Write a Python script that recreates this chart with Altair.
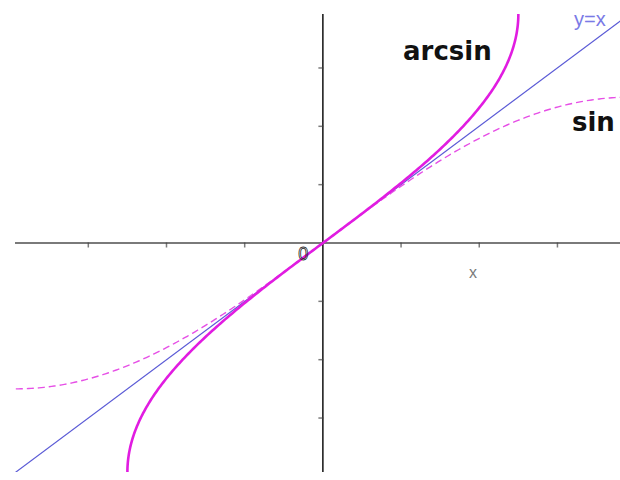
import numpy as np
import pandas as pd
import altair as alt

# Axis extents and tick positions (plot units)
x_range = [-1.575, 1.52]
y_range = [-1.57, 1.57]
tick_vals = [-1.2, -0.8, -0.4, 0.4, 0.8, 1.2]

# Parameter grids for the curves
t_arcsin = np.linspace(-np.pi / 2, np.pi / 2, 241)   # angle grid for arcsin
x_sin = np.linspace(-np.pi / 2, np.pi / 2, 241)      # x grid for sin
x_diag = [-1.575, 1.56]                              # endpoints of y = x

arcsin_df = pd.DataFrame({"x": np.sin(t_arcsin), "y": t_arcsin})
sin_df = pd.DataFrame({"x": x_sin, "y": np.sin(x_sin)})
diag_df = pd.DataFrame({"x": x_diag, "y": x_diag})

# Curve names
label_x = [0.637, 1.384]
label_y = [1.254, 0.768]
label_text = ["arcsin", "sin"]
labels = pd.DataFrame({"x": label_x, "y": label_y, "text": label_text})

xs = alt.Scale(domain=x_range, nice=False, zero=False)
ys = alt.Scale(domain=y_range, nice=False, zero=False)
X = lambda: alt.X("x:Q", scale=xs, axis=None)
Y = lambda: alt.Y("y:Q", scale=ys, axis=None)

x_axis = alt.Chart(pd.DataFrame({"x": [x_range[0]], "x2": [x_range[1]], "y": [0]})).mark_rule(
    color="#7a7a7a", strokeWidth=2
).encode(x=X(), x2="x2:Q", y=Y())

y_axis = alt.Chart(pd.DataFrame({"x": [0], "y": [y_range[0]], "y2": [y_range[1]]})).mark_rule(
    color="#111111", strokeWidth=1.5
).encode(x=X(), y=Y(), y2="y2:Q")

x_ticks = alt.Chart(pd.DataFrame({"x": tick_vals, "y": [0] * len(tick_vals)})).mark_tick(
    orient="vertical", size=5, thickness=1.5, color="#444444", yOffset=2
).encode(x=X(), y=Y())

y_ticks = alt.Chart(pd.DataFrame({"x": [0] * len(tick_vals), "y": tick_vals})).mark_tick(
    orient="horizontal", size=5, thickness=1.5, color="#444444", xOffset=-2
).encode(x=X(), y=Y())

diag = alt.Chart(diag_df).mark_line(color="#5b5bd6", strokeWidth=1.2, clip=True).encode(
    x=X(), y=Y()
)

sin_line = alt.Chart(sin_df).mark_line(
    color="#e64fe6", strokeWidth=1.4, strokeDash=[7, 4], clip=True
).encode(x=X(), y=Y(), order="x:Q")

arcsin_line = alt.Chart(arcsin_df).mark_line(
    color="#e11ce1", strokeWidth=2.6, clip=True
).encode(x=X(), y=Y(), order="y:Q")

name_text = alt.Chart(labels).mark_text(
    font="DejaVu Sans", fontSize=26, fontWeight="bold", color="#111111",
    baseline="alphabetic", align="center"
).encode(x=X(), y=Y(), text="text:N")

yx_text = alt.Chart(pd.DataFrame({"x": [1.366], "y": [1.487], "text": ["y=x"]})).mark_text(
    font="Liberation Sans", fontSize=20, color="#7a7ae6", baseline="alphabetic", align="center"
).encode(x=X(), y=Y(), text="text:N")

zero_text = alt.Chart(pd.DataFrame({"x": [-0.101], "y": [-0.1165], "text": ["0"]})).mark_text(
    font="Liberation Sans", fontSize=18, fillOpacity=0, stroke="#222222", strokeWidth=0.8,
    baseline="alphabetic", align="center"
).encode(x=X(), y=Y(), text="text:N")

x_text = alt.Chart(pd.DataFrame({"x": [0.768], "y": [-0.24], "text": ["x"]})).mark_text(
    font="Liberation Sans", fontSize=16, color="#7a7a7a", baseline="alphabetic", align="center"
).encode(x=X(), y=Y(), text="text:N")

chart = alt.layer(
    x_axis, y_axis, x_ticks, y_ticks, diag, sin_line, arcsin_line,
    name_text, yx_text, zero_text, x_text
).properties(
    width=605, height=458,
    autosize=alt.AutoSizeParams(type="none"),
    padding={"left": 15, "top": 14, "right": 0, "bottom": 8},
    background="white",
).configure_view(strokeWidth=0)

chart.save("out.html", embed_options={"renderer": "svg", "actions": False})
